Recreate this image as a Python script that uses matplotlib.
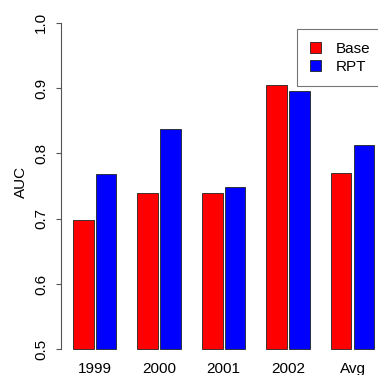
import numpy as np
import matplotlib
matplotlib.use('Agg')
import matplotlib.pyplot as plt
from matplotlib.patches import Patch

plt.rcParams['font.family'] = ['Liberation Sans', 'DejaVu Sans']

years = ['1999', '2000', '2001', '2002', 'Avg']
base = [0.698, 0.739, 0.740, 0.905, 0.770]
rpt = [0.769, 0.838, 0.748, 0.896, 0.813]
yticks = [0.5, 0.6, 0.7, 0.8, 0.9, 1.0]

W, H = 378, 375
fs = 11
fig = plt.figure(figsize=(W / 100, H / 100), dpi=100)

# axes box in pixels (extends past the right edge like the original barplot)
left, bottom = 60.7, 12.6
width, height = 325.7, 352.8
ax = fig.add_axes([left / W, bottom / H, width / W, height / H])

# barplot layout: bar width 1, space 0.1 inside a group, 1 between groups
ngrp = len(years)
x0 = 1 + 3.1 * np.arange(ngrp)
bar_kw = dict(width=1.0, align='edge', edgecolor='#222222', linewidth=0.6)
ax.bar(x0, np.array(base) - 0.5, bottom=0.5, color='#ff0000', **bar_kw)
ax.bar(x0 + 1.1, np.array(rpt) - 0.5, bottom=0.5, color='#0000ff', **bar_kw)

ax.set_xlim(0.42, 16.08)
ax.set_ylim(0.48, 1.02)

for s in ['top', 'right', 'bottom']:
    ax.spines[s].set_visible(False)
ax.spines['left'].set_bounds(0.5, 1.0)
ax.spines['left'].set_color('#555555')
ax.spines['left'].set_linewidth(0.8)

ax.set_yticks(yticks)
ax.set_yticklabels(['%.1f' % v for v in yticks], rotation=90, va='center')
ax.tick_params(axis='y', length=3.4, width=0.8, color='#555555',
               labelsize=fs, pad=5.5)

ax.set_xticks(x0 + 1.05)
ax.set_xticklabels(years)
ax.tick_params(axis='x', length=0, labelsize=fs, pad=-0.5)

fig.text(20.7 / W, 1 - 182 / H, 'AUC', rotation=90, ha='center', va='center',
         fontsize=fs)

handles = [Patch(facecolor='#ff0000', edgecolor='#222222', linewidth=0.6),
           Patch(facecolor='#0000ff', edgecolor='#222222', linewidth=0.6)]
leg = fig.legend(handles, ['Base', 'RPT'], loc='upper left',
                 bbox_to_anchor=(297.3 / W, 1 - 85 / H, 110 / W, (85 - 29.3) / H),
                 mode='expand', fancybox=False, fontsize=fs,
                 borderpad=0.8, labelspacing=0.3, handlelength=0.75,
                 handleheight=0.7, handletextpad=0.95, borderaxespad=0)
leg.get_frame().set_edgecolor('#555555')
leg.get_frame().set_linewidth(0.8)

fig.savefig('out.png', dpi=100)
